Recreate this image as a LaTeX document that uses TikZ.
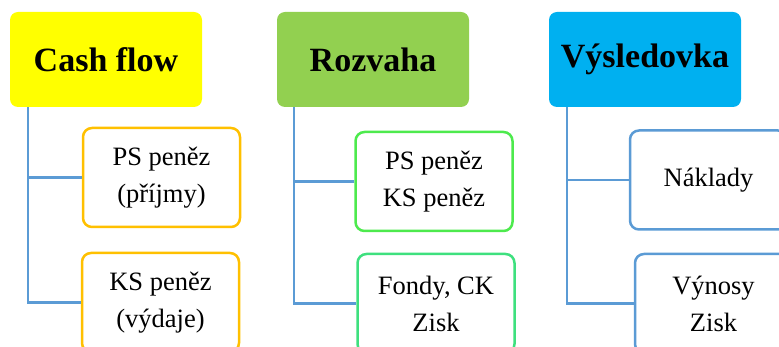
\documentclass[tikz,border=0pt]{standalone}
\usepackage{fontspec}
\setmainfont{Liberation Serif}
\definecolor{hdyellow}{HTML}{FFFF00}
\definecolor{hdgreen}{HTML}{92D050}
\definecolor{hdblue}{HTML}{00B0F0}
\definecolor{cborange}{HTML}{FFC000}
\definecolor{cblime}{HTML}{4DEA4D}
\definecolor{cbmint}{HTML}{3EE07E}
\definecolor{cbblue}{HTML}{5B9BD5}
\definecolor{linkblue}{HTML}{5B9BD5}
\begin{document}
\begin{tikzpicture}[x=1pt,y=-1pt,
  header/.style={draw=none, rounded corners=8pt, minimum width=192pt, minimum height=95pt,
    inner sep=0pt, font=\fontsize{34}{40}\selectfont\bfseries},
  child/.style={draw=#1, line width=2.5pt, rounded corners=9pt, fill=white,
    minimum width=157pt, minimum height=99pt, inner sep=0pt, align=center,
    font=\fontsize{26.5}{37}\selectfont},
  link/.style={draw=linkblue, line width=2.5pt}]
\useasboundingbox (0,0) rectangle (779,347);
\clip (0,0) rectangle (779,347);
% column 1
\node[header, fill=hdyellow] (h1) at (106,59.5) {Cash flow};
\node[child=cborange] (c11) at (161.5,177.5) {PS peněz\\(příjmy)};
\node[child=cborange] (c12) at (160.5,302.5) {KS peněz\\(výdaje)};
\coordinate (v1) at (28,107);
\draw[link] (v1) |- (c12.west);
\draw[link] (c11.west) -- (c11.west -| v1);
% column 2
\node[header, fill=hdgreen] (h2) at (373,59.5) {Rozvaha};
\node[child=cblime] (c21) at (434,181.5) {PS peněz\\KS peněz};
\node[child=cbmint] (c22) at (436,303.5) {Fondy, CK\\Zisk};
\coordinate (v2) at (294,107);
\draw[link] (v2) |- (c22.west);
\draw[link] (c21.west) -- (c21.west -| v2);
% column 3
\node[header, fill=hdblue] (h3) at (645,59.5) {Výsledovka};
\node[child=cbblue] (c31) at (708.5,180) {Náklady};
\node[child=cbblue] (c32) at (713.5,303.5) {Výnosy\\Zisk};
\coordinate (v3) at (567,107);
\draw[link] (v3) |- (c32.west);
\draw[link] (c31.west) -- (c31.west -| v3);
\end{tikzpicture}
\end{document}
